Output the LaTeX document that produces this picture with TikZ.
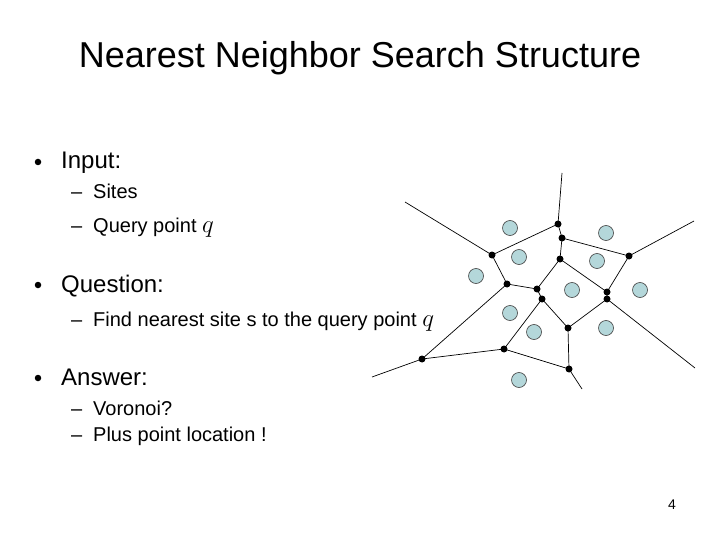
\documentclass[tikz,border=0pt]{standalone}
\usepackage{fontspec}
\setmainfont{Liberation Sans}
\definecolor{sitefill}{RGB}{180,215,218}
\begin{document}
\begin{tikzpicture}[x=1pt,y=-1pt,
  edge/.style={line width=0.7pt},
  vdot/.style={circle,fill=black,inner sep=0pt,minimum size=7pt},
  site/.style={circle,draw=black!75,line width=0.6pt,fill=sitefill,inner sep=0pt,minimum size=15pt},
  bul/.style={anchor=center,inner sep=0pt,circle,fill=black,minimum size=6.5pt},
  lvlone/.style={anchor=base west,inner sep=0pt,font=\fontsize{24}{28}\selectfont},
  lvltwo/.style={anchor=base west,inner sep=0pt,font=\fontsize{20}{24}\selectfont},
  qmath/.style={}]
\useasboundingbox (0,0) rectangle (720,540);
% title
\node[anchor=base,inner sep=0pt,font=\fontsize{36}{40}\selectfont] (title) at (360,68) {Nearest Neighbor Search Structure};
% bullets
\node[bul] (b1) at (38,162) {};
\node[lvlone] (t1) at (61,169) {Input:};
\node[lvltwo] (d11) at (71,199) {–};
\node[lvltwo] (t11) at (93,199) {Sites};
\node[lvltwo] (d12) at (71,233) {–};
\node[lvltwo] (t12) at (93,233) {Query point \fontsize{27}{28}\selectfont$q$};
\node[bul] (b2) at (38,285) {};
\node[lvlone] (t2) at (61,292) {Question:};
\node[lvltwo] (d21) at (71,326) {–};
\node[lvltwo] (t21) at (93,326) {Find nearest site s to the query point \fontsize{27}{28}\selectfont$q$};
\node[bul] (b3) at (38,378) {};
\node[lvlone] (t3) at (61,385) {Answer:};
\node[lvltwo] (d31) at (71,415) {–};
\node[lvltwo] (t31) at (93,415) {Voronoi?};
\node[lvltwo] (d32) at (71,441) {–};
\node[lvltwo] (t32) at (93,441) {Plus point location !};
\node[anchor=base,inner sep=0pt,font=\fontsize{14}{16}\selectfont] (pg) at (672,509) {4};
% Voronoi vertices
\coordinate (A) at (492,255);
\coordinate (B) at (507,284);
\coordinate (C) at (537,289);
\coordinate (D) at (542,299);
\coordinate (E) at (422,359);
\coordinate (F) at (504,349);
\coordinate (G) at (558,224);
\coordinate (H) at (562,238);
\coordinate (I) at (560,259);
\coordinate (J) at (629,256);
\coordinate (K) at (607,292);
\coordinate (L) at (607,299);
\coordinate (M) at (568,328);
\coordinate (N) at (569,369);
% free ends
\coordinate (e1) at (405,202);
\coordinate (e2) at (562,173);
\coordinate (e3) at (694,221);
\coordinate (e4) at (695,368);
\coordinate (e5) at (582,389);
\coordinate (e6) at (372,377);
% edges
\draw[edge] (e1) -- (A) -- (G) -- (e2);
\draw[edge] (G) -- (H) -- (J) -- (e3);
\draw[edge] (H) -- (I) -- (K) -- (J);
\draw[edge] (I) -- (C);
\draw[edge] (A) -- (B) -- (C) -- (D);
\draw[edge] (B) -- (E) -- (e6);
\draw[edge] (E) -- (F) -- (D) -- (M) -- (L) -- (K);
\draw[edge] (L) -- (e4);
\draw[edge] (F) -- (N) -- (M);
\draw[edge] (N) -- (e5);
\foreach \v in {A,B,C,D,E,F,G,H,I,J,K,L,M,N} \node[vdot] (dot\v) at (\v) {};
% sites
\node[site] (s1) at (510,228) {};
\node[site] (s2) at (606,233) {};
\node[site] (s3) at (519,257) {};
\node[site] (s4) at (597,261) {};
\node[site] (s5) at (476,276) {};
\node[site] (s6) at (572,290) {};
\node[site] (s7) at (640,290) {};
\node[site] (s8) at (510,313) {};
\node[site] (s9) at (534,332) {};
\node[site] (s10) at (606,328) {};
\node[site] (s11) at (519,380) {};
\end{tikzpicture}
\end{document}
